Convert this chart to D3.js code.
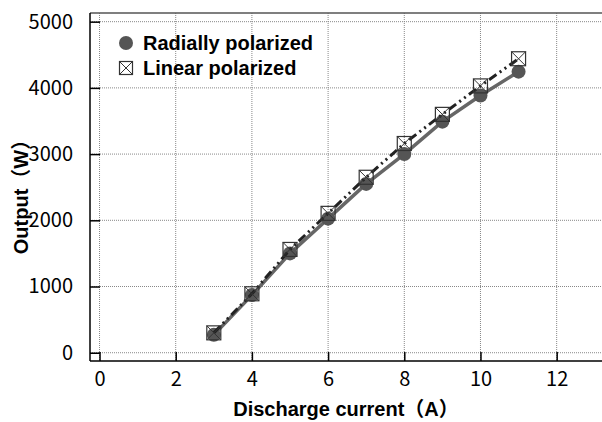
<!DOCTYPE html>
<html>
<head>
<meta charset="utf-8">
<script src="https://cdn.jsdelivr.net/npm/d3@7"></script>
<style>
  body { margin: 0; background: #fff; }
  svg { display: block; }
  .tick text { font-family: "Noto Sans CJK JP", sans-serif; font-size: 20px; fill: #000; }
  .grid line { stroke: #888; stroke-width: 1; stroke-dasharray: 1,1; }
  .ttl { font-family: "Liberation Sans", "Noto Sans CJK JP", sans-serif; font-weight: bold; font-size: 20px; }
  .leg { font-family: "Liberation Sans", Arial, sans-serif; font-weight: bold; font-size: 20px; }
</style>
</head>
<body>
<div id="chart"></div>
<script>
var current = [3, 4, 5, 6, 7, 8, 9, 10, 11];
var radial = [270, 870, 1500, 2025, 2550, 3000, 3490, 3885, 4245];
var linear = [300, 890, 1560, 2105, 2650, 3160, 3600, 4030, 4440];
var xTicks = [0, 2, 4, 6, 8, 10, 12];
var yTicks = [0, 1000, 2000, 3000, 4000, 5000];
var seriesNames = ["Radially polarized", "Linear polarized"];

var W = 602, H = 422;
var L = 90, R = 602, T = 13, B = 361;

var svg = d3.select("#chart").append("svg")
  .attr("width", W)
  .attr("height", H);

var x = d3.scaleLinear().domain([-0.25, 13.19]).range([L, R]);
var y = d3.scaleLinear().domain([-125, 5131]).range([B, T]);

// --- grid ---
var grid = svg.append("g").attr("class", "grid");
grid.selectAll("line.v").data(xTicks).enter().append("line")
  .attr("x1", d => x(d)).attr("x2", d => x(d))
  .attr("y1", T).attr("y2", B);
grid.selectAll("line.h").data(yTicks).enter().append("line")
  .attr("x1", L).attr("x2", R)
  .attr("y1", d => y(d)).attr("y2", d => y(d));

// --- top border ---
svg.append("line")
  .attr("x1", L).attr("x2", R).attr("y1", T).attr("y2", T)
  .attr("stroke", "#555").attr("stroke-width", 1.5);

// --- axes (ticks point inward) ---
var xAxis = svg.append("g")
  .attr("transform", `translate(0,${B})`)
  .call(d3.axisBottom(x).tickValues(xTicks).tickSizeInner(-9).tickSizeOuter(0).tickPadding(11));
var yAxis = svg.append("g")
  .attr("transform", `translate(${L},0)`)
  .call(d3.axisLeft(y).tickValues(yTicks).tickFormat(d3.format("d")).tickSizeInner(-10).tickSizeOuter(0).tickPadding(17));
[xAxis, yAxis].forEach(function(a) {
  a.select(".domain").attr("stroke", "#000").attr("stroke-width", 1.5);
  a.selectAll(".tick line").attr("stroke", "#000").attr("stroke-width", 1.5);
});
xAxis.select(".domain").attr("d", `M${L},0H${R}`);
yAxis.select(".domain").attr("d", `M0,${B}V${T}`);

// --- series ---
var line = d3.line().x(d => x(d[0])).y(d => y(d[1]));
var radPts = current.map((c, i) => [c, radial[i]]);
var linPts = current.map((c, i) => [c, linear[i]]);

svg.append("path")
  .attr("d", line(radPts))
  .attr("fill", "none").attr("stroke", "#666").attr("stroke-width", 3.5);
svg.selectAll("circle.rad").data(radPts).enter().append("circle")
  .attr("cx", d => x(d[0])).attr("cy", d => y(d[1]))
  .attr("r", 7).attr("fill", "#555");

svg.append("path")
  .attr("d", line(linPts))
  .attr("fill", "none").attr("stroke", "#222").attr("stroke-width", 3)
  .attr("stroke-dasharray", "9,4,2,4,2,4");

function drawBox(g, cx, cy, s) {
  g.append("rect")
    .attr("x", cx - s / 2).attr("y", cy - s / 2)
    .attr("width", s).attr("height", s)
    .attr("fill", "none").attr("stroke", "#333").attr("stroke-width", 1.2);
  g.append("path")
    .attr("d", `M${cx - s / 2},${cy - s / 2}L${cx + s / 2},${cy + s / 2}M${cx + s / 2},${cy - s / 2}L${cx - s / 2},${cy + s / 2}`)
    .attr("stroke", "#333").attr("stroke-width", 1);
}
var boxes = svg.append("g");
linPts.forEach(d => drawBox(boxes, x(d[0]), y(d[1]), 14));

// --- legend ---
var leg = svg.append("g");
leg.append("circle").attr("cx", 126).attr("cy", 43).attr("r", 7).attr("fill", "#555");
drawBox(leg, 126, 68, 13);
leg.selectAll("text").data(seriesNames).enter().append("text")
  .attr("class", "leg")
  .attr("x", 143)
  .attr("y", (d, i) => 50 + i * 25)
  .text(d => d);

// --- axis titles ---
svg.append("text").attr("class", "ttl")
  .attr("x", (L + R) / 2).attr("y", 416)
  .attr("text-anchor", "middle")
  .text("Discharge current（A）");
svg.append("text").attr("class", "ttl")
  .attr("transform", "translate(28,192) rotate(-90)")
  .attr("text-anchor", "middle")
  .text("Output（W）");
</script>
</body>
</html>
